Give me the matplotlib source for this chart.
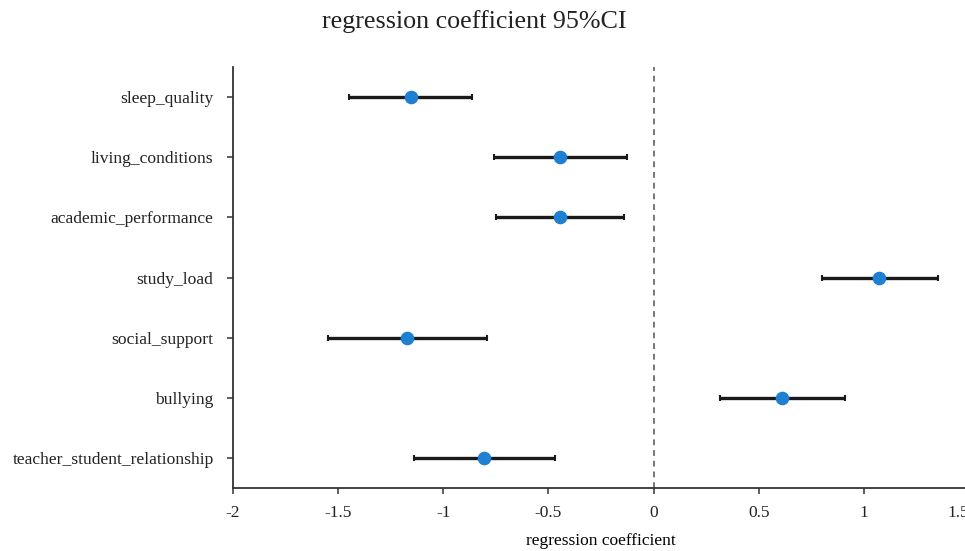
import matplotlib
matplotlib.use("Agg")
import matplotlib.pyplot as plt

plt.rcParams['font.family'] = ['Liberation Serif', 'DejaVu Serif']
plt.rcParams['axes.unicode_minus'] = False

# variables, top to bottom
labels = ["sleep_quality", "living_conditions", "academic_performance",
          "study_load", "social_support", "bullying",
          "teacher_student_relationship"]
coef = [-1.155, -0.443, -0.446, 1.073, -1.171, 0.613, -0.807]
ci_low = [-1.448, -0.757, -0.749, 0.803, -1.550, 0.316, -1.141]
ci_high = [-0.863, -0.124, -0.143, 1.351, -0.793, 0.908, -0.470]
xticks = [-2, -1.5, -1, -0.5, 0, 0.5, 1, 1.5]
xtick_labels = ["-2", "-1.5", "-1", "-0.5", "0", "0.5", "1", "1.5"]

fig = plt.figure(figsize=(9.65, 5.51), dpi=100)
ax = fig.add_axes([233 / 965, 1 - 488 / 551, 736 / 965, 421 / 551])

ypos = list(range(len(labels)))
err_lo = [c - l for c, l in zip(coef, ci_low)]
err_hi = [h - c for c, h in zip(coef, ci_high)]

ax.axvline(0, color='#777777', linestyle=(0, (3, 2.5)), linewidth=1.4, zorder=1)
ax.errorbar(coef, ypos, xerr=[err_lo, err_hi], fmt='none', ecolor='#1a1a1a',
            elinewidth=2.4, capsize=2.5, capthick=1.5, zorder=2)
ax.plot(coef, ypos, 'o', color='#1f7fd0', markersize=8.8, zorder=3)

ax.set_xlim(-2, 1.5)
ax.set_ylim(len(labels) - 0.5, -0.5)
ax.set_yticks(ypos)
ax.set_yticklabels(labels, fontsize=12.6)
ax.set_xticks(xticks)
ax.set_xticklabels(xtick_labels, fontsize=12.5)
ax.set_xlabel("regression coefficient", fontsize=12.5, labelpad=9)
# last label sits at the right edge of the figure, pull it inward like the original
ax.get_xticklabels()[-1].set_ha('right')

for s in ['top', 'right']:
    ax.spines[s].set_visible(False)
for s in ['left', 'bottom']:
    ax.spines[s].set_color('#333333')
    ax.spines[s].set_linewidth(1.3)
ax.tick_params(axis='both', length=4, width=1.1, color='#333333', labelcolor='#222222')
ax.tick_params(axis='y', pad=10)
ax.tick_params(axis='x', pad=8)

fig.text(474 / 965, 1 - 22 / 551, "regression coefficient 95%CI", ha='center', va='center',
         fontsize=18.7, color='#222222')

fig.savefig("out.png", dpi=100)
